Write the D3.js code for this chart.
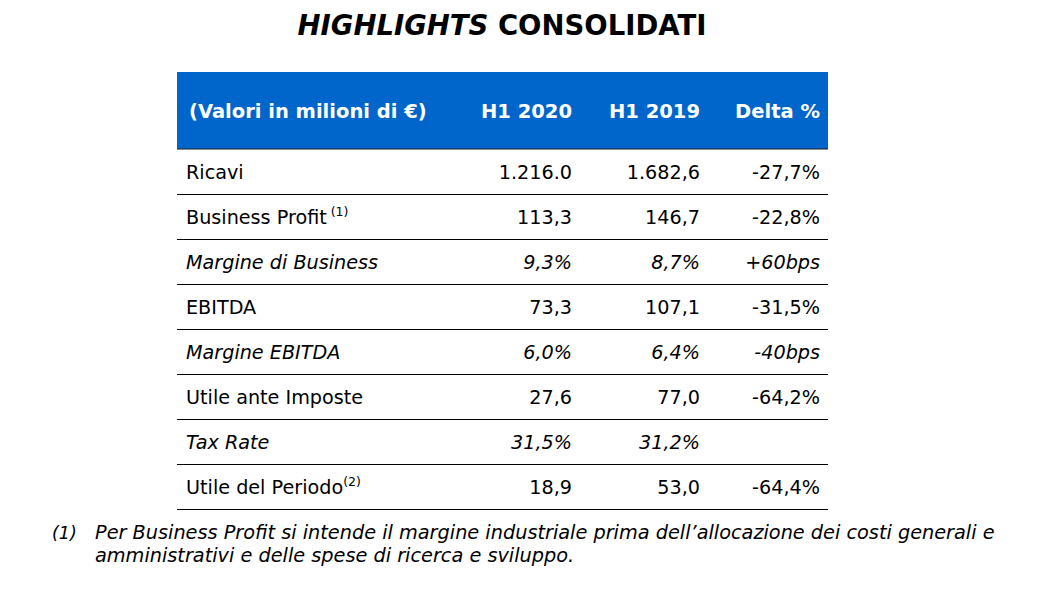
<!DOCTYPE html>
<html><head><meta charset="utf-8">
<script src="https://cdn.jsdelivr.net/npm/d3@7/dist/d3.min.js"></script>
<style>
html,body{margin:0;padding:0;background:#fff;}
svg text{font-family:"DejaVu Sans",Verdana,sans-serif;}
</style></head>
<body><svg id="c" width="1037" height="612"></svg>
<script>
const title = ["HIGHLIGHTS", " CONSOLIDATI"];
const headers = ["(Valori in milioni di €)", "H1 2020", "H1 2019", "Delta %"];
const rowLabels = ["Ricavi","Business Profit","Margine di Business","EBITDA","Margine EBITDA","Utile ante Imposte","Tax Rate","Utile del Periodo"];
const rowSup = ["", " (1)", "", "", "", "", "", "(2)"];
const rowItalic = [false,false,true,false,true,false,true,false];
const h1_2020 = ["1.216.0","113,3","9,3%","73,3","6,0%","27,6","31,5%","18,9"];
const h1_2019 = ["1.682,6","146,7","8,7%","107,1","6,4%","77,0","31,2%","53,0"];
const delta = ["-27,7%","-22,8%","+60bps","-31,5%","-40bps","-64,2%","","-64,4%"];
const footnoteMark = "(1)";
const footnoteLines = ["Per Business Profit si intende il margine industriale prima dell’allocazione dei costi generali e",
                       "amministrativi e delle spese di ricerca e sviluppo."];

const svg = d3.select("#c");
const tableLeft = 177, tableRight = 828;
const headTop = 72, headBottom = 149;
const y = d3.scaleBand().domain(d3.range(rowLabels.length)).range([headBottom, 509]).padding(0);
const colX = d3.scaleOrdinal().domain([1,2,3]).range([572, 700, 820]);
const FS = 19.2;

// title
const t = svg.append("text").attr("x", 502).attr("y", 35).attr("text-anchor","middle")
  .attr("font-size", 27.5).attr("font-weight","bold").attr("fill","#000");
t.append("tspan").attr("font-style","italic").text(title[0]);
t.append("tspan").text(title[1]);

// header
svg.append("rect").attr("x", tableLeft).attr("y", headTop).attr("width", tableRight-tableLeft)
  .attr("height", headBottom-headTop).attr("fill","#0066CC");
const hy = (headTop+headBottom)/2 + 7;
svg.append("text").attr("x", 189).attr("y", hy).attr("fill","#fff").attr("font-weight","bold")
  .attr("font-size", 19.5).text(headers[0]);
[1,2,3].forEach(i=>{
  svg.append("text").attr("x", colX(i)).attr("y", hy).attr("fill","#fff").attr("font-weight","bold")
    .attr("text-anchor","end").attr("font-size", 19.5).text(headers[i]);
});
svg.append("line").attr("x1",tableLeft).attr("x2",tableRight).attr("y1",headBottom).attr("y2",headBottom)
  .attr("stroke","#1a1a1a").attr("stroke-width",1);

// rows
const rows = svg.selectAll("g.row").data(rowLabels).join("g").attr("class","row")
  .attr("transform",(d,i)=>`translate(0,${y(i)})`);
rows.append("line").attr("x1",tableLeft).attr("x2",tableRight)
  .attr("y1",y.bandwidth()+0.5).attr("y2",y.bandwidth()+0.5).attr("stroke","#000").attr("stroke-width",1);
const by = y.bandwidth()/2 + 7;
rows.each(function(d,i){
  const g = d3.select(this);
  const st = rowItalic[i] ? "italic" : "normal";
  const lab = g.append("text").attr("x",186).attr("y",by).attr("font-size",FS).attr("font-style",st).attr("fill","#000");
  lab.append("tspan").text(d);
  if(rowSup[i]) lab.append("tspan").attr("font-size",12.5).attr("dy",-8).text(rowSup[i]);
  [h1_2020[i], h1_2019[i], delta[i]].forEach((v,k)=>{
    g.append("text").attr("x",colX(k+1)).attr("y",by).attr("text-anchor","end")
      .attr("font-size",FS).attr("font-style",st).attr("fill","#000").text(v);
  });
});

// footnote
svg.append("text").attr("x",52).attr("y",539).attr("font-size",17.5).attr("font-style","italic").text(footnoteMark);
footnoteLines.forEach((l,i)=>{
  svg.append("text").attr("x",95).attr("y",539+i*23).attr("font-size",19.3).attr("font-style","italic").text(l);
});
</script></body></html>
